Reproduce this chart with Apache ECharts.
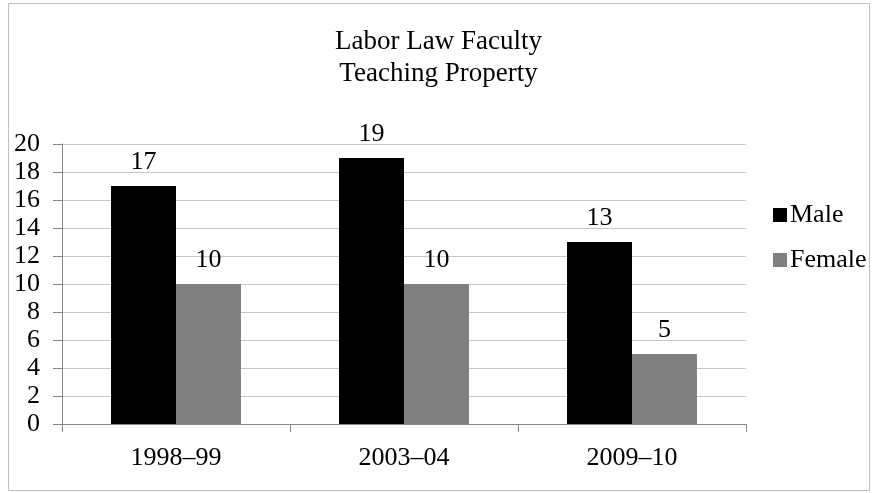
<!DOCTYPE html>
<html>
<head>
<meta charset="utf-8">
<script src="https://cdn.jsdelivr.net/npm/echarts@6/dist/echarts.min.js"></script>
<style>
  html, body { margin: 0; padding: 0; background: #fff; }
  #chart { width: 877px; height: 493px; }
</style>
</head>
<body>
<div id="chart"></div>
<script>
// data
const categories = ['1998–99', '2003–04', '2009–10']
const male = [17, 19, 13]
const female = [10, 10, 5]
const yTicks = { min: 0, max: 20, interval: 2 }

const font = '"Liberation Serif", "DejaVu Serif", serif'
const chart = echarts.init(document.getElementById('chart'))

const labelStyle = {
  show: true,
  position: 'top',
  distance: 11,
  color: '#000',
  fontFamily: font,
  fontSize: 26,
}

chart.setOption({
  animation: false,
  backgroundColor: '#fff',
  graphic: [{
    type: 'rect',
    shape: { x: 8.5, y: 3.5, width: 861, height: 487 },
    style: { fill: 'none', stroke: '#bfbfbf', lineWidth: 1 },
    silent: true,
  }],
  title: {
    text: 'Labor Law Faculty\nTeaching Property',
    left: 'center',
    top: 21,
    textStyle: {
      fontFamily: font,
      fontSize: 27,
      fontWeight: 'normal',
      color: '#000',
      lineHeight: 32,
    },
  },
  legend: {
    orient: 'vertical',
    left: 768,
    top: 197,
    itemWidth: 14,
    itemHeight: 14,
    itemGap: 19,
    icon: 'rect',
    textStyle: { fontFamily: font, fontSize: 26, color: '#000', padding: [0, 0, 0, -2] },
    data: ['Male', 'Female'],
  },
  grid: {
    left: 62,
    top: 144,
    width: 684,
    height: 280,
    containLabel: false,
  },
  xAxis: {
    type: 'category',
    data: categories,
    axisLine: { lineStyle: { color: '#868686' } },
    axisTick: { show: true, length: 8, lineStyle: { color: '#868686' } },
    axisLabel: { color: '#000', fontFamily: font, fontSize: 26, margin: 21 },
  },
  yAxis: {
    type: 'value',
    min: yTicks.min,
    max: yTicks.max,
    interval: yTicks.interval,
    axisLine: { show: true, lineStyle: { color: '#868686' } },
    axisTick: { show: true, length: 9, lineStyle: { color: '#868686' } },
    splitLine: { lineStyle: { color: '#c6c6c6' } },
    axisLabel: { color: '#000', fontFamily: font, fontSize: 26, margin: 22 },
  },
  series: [
    {
      name: 'Male',
      type: 'bar',
      data: male,
      itemStyle: { color: '#000' },
      barGap: '0%',
      barCategoryGap: '43%',
      label: labelStyle,
    },
    {
      name: 'Female',
      type: 'bar',
      data: female,
      itemStyle: { color: '#808080' },
      label: labelStyle,
    },
  ],
})
</script>
</body>
</html>
